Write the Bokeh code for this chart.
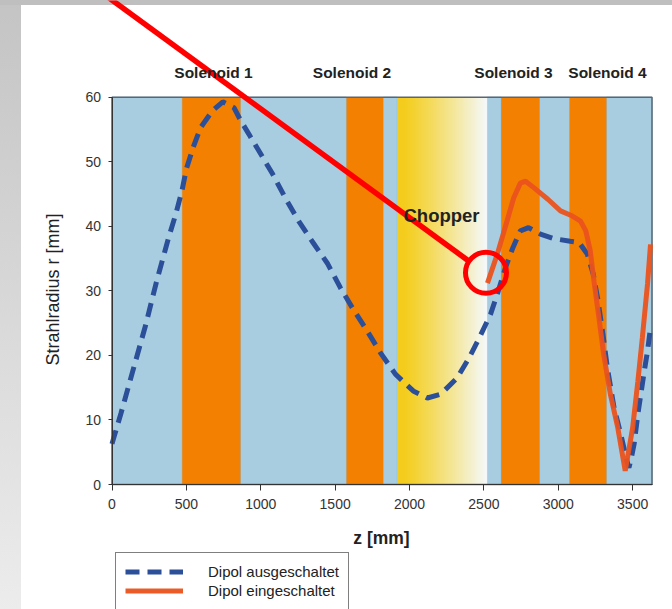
import math
from bokeh.plotting import figure
from bokeh.models import Range1d, FixedTicker, Legend, LegendItem
from bokeh.core.properties import value
from bokeh.embed import file_html
from bokeh.resources import INLINE

# ---------------- data ----------------
z_off = [0, 60, 140, 225, 300, 380, 430, 470, 500, 545, 595, 675, 745, 820, 865, 920,
         1000, 1080, 1165, 1255, 1345, 1450, 1535, 1615, 1715, 1805, 1905, 2025, 2120,
         2210, 2320, 2400, 2475, 2545, 2590, 2645, 2695, 2745, 2800, 2880, 2970, 3080,
         3140, 3195, 3235, 3265, 3300, 3330, 3375, 3420, 3460, 3475, 3490, 3510, 3535,
         3575, 3600, 3620]
r_off = [6.3, 11.0, 17.6, 24.6, 31.5, 38.2, 42.0, 45.5, 48.9, 52.2, 55.3, 57.9, 59.3,
         58.4, 56.4, 54.3, 51.2, 48.1, 44.4, 40.8, 37.7, 34.2, 30.5, 27.4, 23.8, 20.4,
         17.1, 14.5, 13.4, 14.0, 16.5, 19.6, 23.0, 26.4, 29.5, 33.6, 36.7, 39.3, 39.8,
         38.8, 38.1, 37.7, 37.5, 35.7, 32.6, 28.8, 23.3, 18.1, 11.9, 7.8, 3.8, 2.6, 4.0,
         6.3, 10.9, 17.1, 20.7, 24.3]

z_on = [2524, 2590, 2655, 2700, 2745, 2780, 2835, 2930, 3015, 3095, 3150, 3185, 3215,
        3240, 3270, 3305, 3350, 3400, 3450, 3500, 3535, 3565, 3600, 3620]
r_on = [31.2, 35.7, 40.8, 44.4, 46.7, 47.0, 46.0, 44.2, 42.4, 41.6, 40.8, 39.3, 36.2,
        31.5, 26.4, 20.2, 14.0, 8.8, 2.1, 8.8, 16.0, 22.7, 31.1, 37.2]

solenoid_names = ["Solenoid 1", "Solenoid 2", "Solenoid 3", "Solenoid 4"]
solenoid_start = [472, 1576, 2616, 3076]
solenoid_end = [864, 1823, 2874, 3324]
chopper_start = 1917
chopper_end = 2522
chopper_label = "Chopper"

z_max = 3630
r_max = 60
x_ticks = [0, 500, 1000, 1500, 2000, 2500, 3000, 3500]
y_ticks = [0, 10, 20, 30, 40, 50, 60]

series_names = ["Dipol ausgeschaltet", "Dipol eingeschaltet"]
x_title = "z [mm]"
y_title = "Strahlradius r [mm]"

callout_line_z = [-180, 2400]
callout_line_r = [78.1, 34.6]
callout_circle_z = [2514]
callout_circle_r = [32.8]

# ---------------- layout helpers ----------------
FONT = "Liberation Sans"
W, H = 672, 609
px_left, px_right = 111.5, 651.5      # pixel positions of z=0 and z=z_max
py_zero, py_top = 484.0, 96.8         # pixel positions of r=0 and r=r_max
sx = (px_right - px_left) / z_max
sy = (py_zero - py_top) / r_max


def zc(px):
    return (px - px_left) / sx


def rc(py):
    return (py_zero - py) / sy


page_bg = ("linear-gradient(#bfbfbf, #bfbfbf) top left / 100% 5px no-repeat, "
           "linear-gradient(#c4c4c4, #ececec) top left / 21px 100% no-repeat, white")

p = figure(width=W, height=H, x_range=Range1d(zc(0), zc(W)), y_range=Range1d(rc(H), rc(0)),
           output_backend="svg", toolbar_location=None,
           min_border_left=0, min_border_right=0, min_border_top=0, min_border_bottom=0,
           background_fill_color=None, border_fill_color=None, outline_line_color=None,
           styles={"background": page_bg})
p.grid.visible = False

# blue gaps between elements
bounds = sorted([0] + solenoid_start + solenoid_end + [chopper_start, chopper_end, z_max])
gap_l = [bounds[i] for i in range(0, len(bounds), 2)]
gap_r = [bounds[i + 1] for i in range(0, len(bounds), 2)]
p.quad(left=[0], right=[z_max], bottom=[0], top=[r_max], fill_color="#a9cde0", line_color=None)
p.quad(left=gap_l, right=gap_r, bottom=0, top=r_max, fill_color="#a9cde0",
       line_color="#86c3ea", line_width=1)
p.quad(left=solenoid_start, right=solenoid_end, bottom=0, top=r_max,
       fill_color="#f38000", line_color=None)

# chopper gradient (yellow -> white)
n = 90
w = (chopper_end - chopper_start) / n
cl, cr, cc = [], [], []
for i in range(n):
    t = (i + 0.5) / n
    t2 = max(0.0, (t - 0.08) / 0.92)
    g = int(round(204 + (255 - 204) * t2))
    b = int(round(255 * t2 ** 1.1))
    cl.append(chopper_start + i * w)
    cr.append(chopper_start + (i + 1) * w + 0.6)
    cc.append("#%02x%02x%02x" % (255, g, b))
p.quad(left=cl, right=cr, bottom=0, top=r_max, fill_color=cc, line_color=None)

# plot box
p.quad(left=[0], right=[z_max], bottom=[0], top=[r_max], fill_color=None,
       line_color="#5b6670", line_width=1.5)

# curves
l_off = p.line(z_off, r_off, line_color="#2b4f98", line_width=5, line_dash="14 8")
l_on = p.line(z_on, r_on, line_color="#ea521c", line_width=5, line_alpha=0.95)

# callout
p.line(callout_line_z, callout_line_r, line_color="#ff0000", line_width=5.5)
p.scatter(callout_circle_z, callout_circle_r, marker="circle", size=41, fill_color=None,
          line_color="#ff0000", line_width=5)

# annotation texts
sol_label_px = [213, 351.5, 513, 607]
p.text(x=[zc(v) for v in sol_label_px], y=[rc(72)] * 4, text=solenoid_names,
       text_font=value(FONT), text_font_style="bold", text_font_size="15.5px",
       text_align="center", text_baseline="middle", text_color="#222222")
p.text(x=[zc(441)], y=[rc(214.5)], text=[chopper_label], text_font=value(FONT),
       text_font_style="bold", text_font_size="18.5px", text_align="center",
       text_baseline="middle", text_color="#222222")

# axis titles
p.text(x=[zc(381)], y=[rc(537.5)], text=[x_title], text_font=value(FONT),
       text_font_style="bold", text_font_size="17.5px", text_align="center",
       text_baseline="middle", text_color="#222222")
p.text(x=[zc(52.5)], y=[rc(289)], text=[y_title], text_font=value(FONT),
       text_font_size="18px", text_align="center", angle=math.pi / 2,
       text_baseline="middle", text_color="#222222")

# axes (drawn at the data origin)
xa = p.xaxis[0]
xa.fixed_location = 0
xa.bounds = (0, z_max)
xa.ticker = FixedTicker(ticks=x_ticks)
xa.major_label_text_font = FONT
xa.major_label_text_font_size = "14px"
xa.major_label_text_color = "#333333"
xa.major_tick_out = 6
xa.major_tick_in = 0
xa.minor_tick_out = 0
xa.minor_tick_in = 0
xa.major_label_standoff = 8
xa.axis_line_color = "#333333"
xa.major_tick_line_color = "#333333"

ya = p.yaxis[0]
ya.fixed_location = 0
ya.bounds = (0, r_max)
ya.ticker = FixedTicker(ticks=y_ticks)
ya.major_label_text_font = FONT
ya.major_label_text_font_size = "14px"
ya.major_label_text_color = "#333333"
ya.major_tick_out = 4
ya.major_tick_in = 0
ya.minor_tick_out = 0
ya.minor_tick_in = 0
ya.major_label_standoff = 7
ya.axis_line_color = "#333333"
ya.major_tick_line_color = "#333333"

legend = Legend(items=[LegendItem(label=series_names[0], renderers=[l_off]),
                       LegendItem(label=series_names[1], renderers=[l_on])],
                location=(115, -1), padding=9, spacing=0, margin=0,
                glyph_width=58, glyph_height=19, label_height=19, label_standoff=25,
                label_text_font=FONT, label_text_font_size="15px", label_text_color="#222222",
                border_line_color="#000000", border_line_width=1,
                background_fill_color="#ffffff", background_fill_alpha=1)
p.add_layout(legend)

open("out.html", "w").write(file_html(p, INLINE))
